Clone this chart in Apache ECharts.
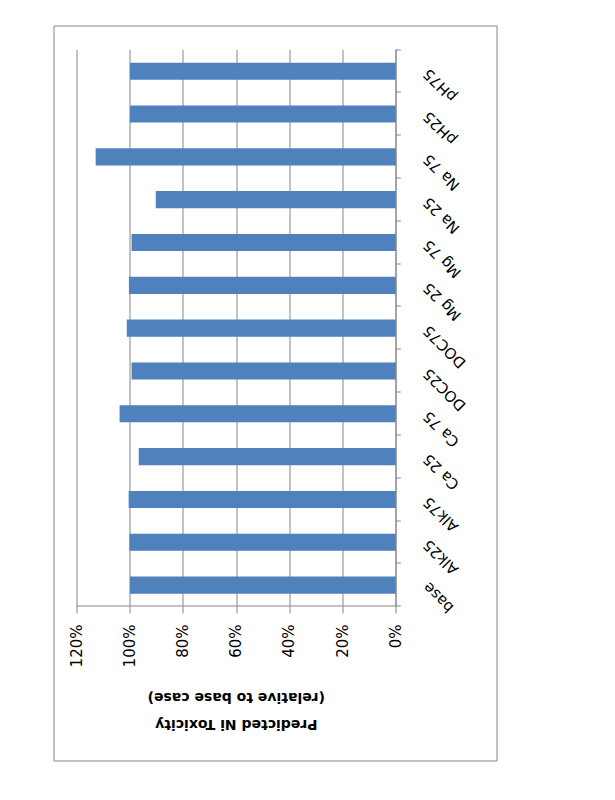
<!DOCTYPE html>
<html>
<head>
<meta charset="utf-8">
<script src="https://cdn.jsdelivr.net/npm/echarts@6/dist/echarts.min.js"></script>
<style>
html,body{margin:0;padding:0;background:#fff;}
#wrap{position:absolute;left:0;top:0;width:615px;height:800px;overflow:hidden;background:#fff;}
#chart{position:absolute;left:-92.5px;top:92.5px;width:800px;height:615px;transform:rotate(-90deg);transform-origin:50% 50%;}
</style>
</head>
<body>
<div id="wrap"><div id="chart"></div></div>
<script>
const categories = ['base','Alk25','Alk75','Ca 25','Ca 75','DOC25','DOC75','Mg 25','Mg 75','Na 25','Na 75','pH25','pH75'];
const toxicity = [1.00, 1.002, 1.005, 0.967, 1.039, 0.994, 1.012, 1.004, 0.994, 0.903, 1.129, 1.00, 1.00];
const valueTicks = [0, 0.2, 0.4, 0.6, 0.8, 1.0, 1.2];
const axisTitle = 'Predicted Ni Toxicity\n(relative to base case)';

const chart = echarts.init(document.getElementById('chart'), null, {renderer: 'svg'});
const gray = '#868686';
chart.setOption({
  animation: false,
  backgroundColor: '#fff',
  graphic: [{
    type: 'rect',
    shape: {x: 39.5, y: 53.5, width: 735, height: 443},
    style: {fill: 'none', stroke: gray, lineWidth: 1}
  }],
  grid: {left: 194, right: 49.3, top: 76.3, bottom: 219.7},
  xAxis: {
    type: 'category',
    data: categories,
    axisLine: {show: true, lineStyle: {color: gray}},
    axisTick: {show: true, length: 5, lineStyle: {color: gray}},
    axisLabel: {rotate: 45, margin: 30, interval: 0, color: '#000', fontFamily: 'DejaVu Sans', fontSize: 15}
  },
  yAxis: {
    type: 'value',
    min: valueTicks[0],
    max: valueTicks[valueTicks.length - 1],
    interval: valueTicks[1] - valueTicks[0],
    axisLine: {show: true, lineStyle: {color: gray}},
    axisTick: {show: true, length: 7, lineStyle: {color: gray}},
    splitLine: {show: true, lineStyle: {color: gray, width: 1}},
    axisLabel: {margin: 18, color: '#000', fontFamily: 'DejaVu Sans', fontSize: 15,
      formatter: v => Math.round(v * 100) + '%'},
    name: axisTitle,
    nameLocation: 'middle',
    nameGap: 78,
    nameTextStyle: {fontFamily: 'DejaVu Sans', fontWeight: 'bold', fontSize: 14, lineHeight: 27, color: '#000'}
  },
  series: [{
    type: 'bar',
    data: toxicity,
    barCategoryGap: '60%',
    itemStyle: {color: '#4F81BD'}
  }]
});
</script>
</body>
</html>
